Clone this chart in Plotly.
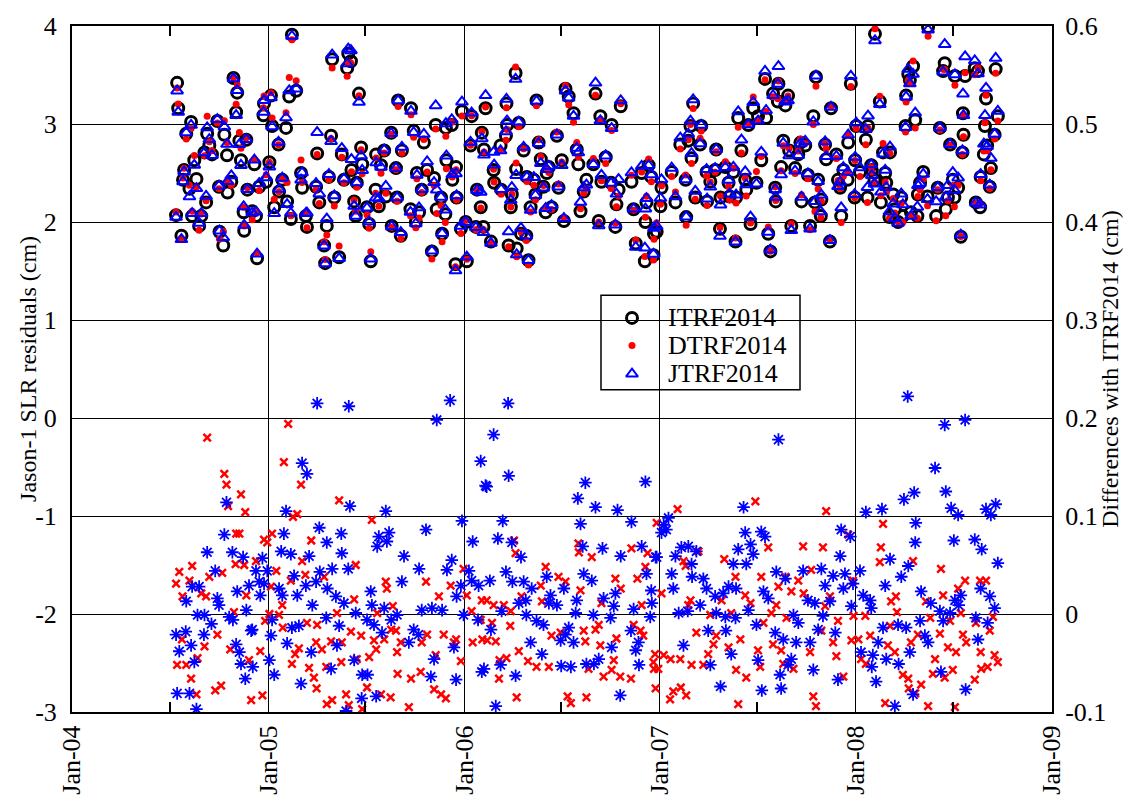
import numpy as np
import pandas as pd
import plotly.graph_objects as go

EPOCH0 = pd.Timestamp("2004-01-01")

# Jason-1 SLR residuals per arc, ITRF2014 solution (cm); arc epochs in days since 2004-01-01
arc_day = [
    196, 198, 222, 213, 252, 271, 301, 308, 306, 284,
    256, 247, 261, 289, 312, 325, 315, 340, 368, 228,
    209, 232, 207, 219, 274, 290, 297, 327, 349, 362,
    392, 386, 401, 427, 429, 250, 241, 224, 194, 237,
    204, 275, 282, 321, 336, 320, 343, 345, 377, 408,
    436, 438, 410, 418, 399, 358, 371, 357, 373, 385,
    405,
    485, 515, 513, 520, 535, 608, 632, 727, 771, 745,
    457, 483, 503, 539, 521, 541, 567, 582, 615, 595,
    637, 656, 678, 697, 708, 743, 768, 764, 479, 507,
    531, 576, 604, 643, 662, 675, 698, 716, 709, 566,
    585, 606, 652, 688, 717, 755, 455, 461, 489, 526,
    550, 572, 631, 647, 680, 696, 734, 753, 762, 475,
    470, 529, 554, 596, 613, 641, 690, 472, 498, 557,
    671, 715, 736, 725,
    827, 810, 866, 920, 926, 935, 976, 985, 1006, 1023,
    811, 833, 799, 809, 842, 870, 874, 904, 913, 941,
    944, 972, 995, 889, 828, 786, 848, 861, 885, 907,
    879, 864, 787, 800, 820, 818, 855, 883, 894, 948,
    959, 954, 987, 1005, 1019, 1015, 1043, 1062, 1075, 1080,
    1047, 1071, 1069, 917, 982, 1013, 767, 781, 814, 837,
    847, 829, 851, 1051, 1068, 1084, 1085,
    1292, 1317, 1307, 1316, 1335, 1330, 1387, 1382, 1158, 1153,
    1173, 1242, 1270, 1279, 1294, 1261, 1134, 1149, 1171, 1201,
    1248, 1285, 1326, 1358, 1367, 1337, 1354, 1322, 1348, 1372,
    1404, 1406, 1155, 1118, 1144, 1099, 1183, 1199, 1218, 1233,
    1255, 1224, 1190, 1276, 1311, 1257, 1162, 1184, 1209, 1226,
    1238, 1312, 1360, 1385, 1397, 1097, 1125, 1145, 1208, 1237,
    1265, 1298, 1302, 1341, 1376, 1396, 1090,
    1596, 1497, 1568, 1559, 1562, 1627, 1624, 1646, 1665, 1683,
    1689, 1722, 1452, 1415, 1506, 1555, 1572, 1554, 1661, 1702,
    1726, 1704, 1462, 1484, 1480, 1618, 1662, 1720, 1447, 1512,
    1525, 1637, 1660, 1706, 1700, 1425, 1460, 1490, 1438, 1469,
    1491, 1516, 1587, 1713, 1642, 1694, 1391, 1428, 1446, 1496,
    1518, 1581, 1711, 1652, 1432, 1459, 1483, 1508, 1531, 1546,
    1577, 1595, 1614, 1633, 1645, 1685, 1693, 1434, 1534, 1524,
    1549, 1564, 1576, 1611, 1629, 1413, 1657, 1540,
]
itrf2014_cm = [
    3.42, 3.16, 3.02, 2.90, 2.90, 3.03, 3.47, 3.32, 3.12, 2.89,
    2.78, 2.71, 2.69, 2.68, 2.83, 2.84, 2.63, 2.59, 2.61, 2.63,
    2.53, 2.44, 2.43, 2.34, 2.36, 2.30, 2.41, 2.33, 2.36, 2.41,
    2.43, 2.31, 2.21, 2.50, 2.35, 2.20, 2.06, 2.06, 2.07, 1.96,
    1.86, 1.90, 1.76, 1.91, 2.11, 2.10, 2.06, 1.63, 2.15, 2.03,
    2.06, 1.95, 3.91, 3.34, 2.96, 3.21, 3.29, 3.09, 2.98, 2.79,
    3.28,
    3.66, 3.72, 3.57, 3.64, 3.31, 3.24, 3.16, 3.13, 3.16, 3.08,
    2.70, 2.88, 2.69, 2.76, 2.53, 2.59, 2.69, 2.73, 2.73, 2.91,
    2.93, 2.81, 2.99, 2.96, 2.99, 2.78, 2.74, 2.91, 2.46, 2.43,
    2.40, 2.58, 2.55, 2.50, 2.53, 2.45, 2.63, 2.56, 2.43, 2.33,
    2.26, 2.25, 2.33, 2.25, 2.25, 2.33, 2.36, 2.20, 2.25, 2.21,
    2.15, 2.16, 2.13, 2.10, 2.13, 2.08, 2.00, 1.95, 2.15, 1.96,
    1.76, 2.06, 1.98, 1.96, 1.86, 2.00, 1.88, 1.58, 1.64, 1.60,
    1.70, 1.57, 1.60, 1.93,
    3.52, 3.21, 3.24, 3.36, 3.28, 3.11, 3.31, 3.08, 2.99, 3.18,
    2.99, 3.01, 2.78, 2.88, 2.73, 2.81, 2.64, 2.88, 2.63, 2.74,
    2.59, 2.59, 2.66, 2.56, 2.54, 2.53, 2.46, 2.43, 2.50, 2.35,
    2.36, 2.28, 2.40, 2.33, 2.28, 2.15, 2.15, 2.10, 2.15, 2.11,
    2.43, 2.31, 2.41, 2.40, 2.33, 2.18, 2.41, 2.50, 2.58, 2.46,
    2.13, 2.20, 2.00, 2.01, 2.01, 1.95, 1.95, 1.80, 1.76, 1.88,
    1.86, 1.73, 1.61, 1.78, 1.60, 1.66, 1.88,
    3.46, 3.41, 3.31, 3.23, 3.29, 3.19, 3.48, 3.08, 3.21, 2.98,
    2.98, 3.06, 3.16, 3.08, 3.06, 2.99, 2.79, 2.83, 2.79, 2.74,
    2.73, 2.63, 2.83, 2.81, 2.78, 2.73, 2.69, 2.56, 2.55, 2.48,
    2.79, 2.64, 2.65, 2.51, 2.43, 2.35, 2.51, 2.53, 2.56, 2.51,
    2.43, 2.40, 2.41, 2.40, 2.35, 2.33, 2.25, 2.21, 2.25, 2.26,
    2.25, 2.21, 2.21, 2.20, 2.23, 2.16, 2.20, 2.05, 1.93, 1.80,
    1.98, 1.88, 1.70, 1.96, 1.96, 2.06, 1.90,
    3.99, 3.92, 3.59, 3.51, 3.45, 3.62, 3.54, 3.49, 3.49, 3.57,
    3.54, 3.56, 3.41, 3.16, 3.23, 3.29, 3.04, 2.98, 3.11, 2.98,
    3.08, 3.26, 2.98, 2.98, 2.84, 2.96, 2.89, 2.89, 2.81, 2.71,
    2.71, 2.79, 2.71, 2.78, 2.69, 2.69, 2.63, 2.58, 2.53, 2.51,
    2.53, 2.50, 2.51, 2.55, 2.43, 2.46, 2.43, 2.43, 2.43, 2.43,
    2.40, 2.40, 2.36, 2.35, 2.35, 2.25, 2.25, 2.20, 2.28, 2.25,
    2.28, 2.26, 2.35, 2.25, 2.25, 2.20, 2.15, 2.06, 2.13, 2.05,
    2.06, 2.10, 2.06, 2.06, 2.13, 1.80, 1.85, 2.00,
]

# DTRF2014 minus ITRF2014 (cm)
dtrf_diff_day = [
    252, 284, 288, 315, 323, 291, 306, 312, 395, 403,
    427, 420, 412, 373, 358, 364, 446, 343, 305, 321,
    429, 435, 408, 381, 224, 200, 194, 219, 256, 280,
    241, 250, 206, 325, 371, 392, 302, 368, 386, 360,
    393, 438, 457, 271, 205, 247, 295, 351, 234, 330,
    423, 416, 410, 455, 196, 213, 222, 442, 451, 456,
    278, 267, 232, 334, 355,
    498, 559, 529, 470, 585, 587, 660, 706, 730, 526,
    598, 684, 736, 764, 494, 569, 745, 762, 520, 539,
    483, 503, 563, 582, 595, 604, 613, 606, 662, 652,
    693, 712, 716, 747, 765, 466, 567, 554, 502, 474,
    531, 678, 725, 650, 607, 632, 511, 550, 576, 594,
    675, 688, 697, 475, 485, 516, 541, 628,
    824, 827, 944, 945, 969, 1043, 1073, 1090, 883, 907,
    920, 1013, 1054, 1069, 874, 948, 1023, 838, 773, 786,
    805, 876, 987, 1062, 818, 783, 817, 774, 790, 833,
    894, 911, 954, 957, 976, 982, 985, 1015, 1047, 1060,
    1065, 797, 810, 850, 866, 889, 963, 1010, 1006, 991,
    1022, 1042, 1084, 1085, 796, 829, 924, 930, 959, 1088,
    1129, 1274, 1406, 1363, 1400, 1298, 1168, 1216, 1140, 1144,
    1237, 1285, 1330, 1354, 1378, 1099, 1255, 1317, 1341, 1364,
    1153, 1149, 1211, 1265, 1313, 1404, 1304, 1190, 1229, 1332,
    1289, 1164, 1201, 1246, 1196, 1224, 1279, 1307, 1322, 1376,
    1087, 1103, 1116, 1134, 1186, 1155, 1177, 1283, 1326, 1345,
    1093, 1238, 1257, 1121, 1135, 1145, 1115, 1242, 1382, 1387,
    1512, 1447, 1508, 1506, 1568, 1620, 1665, 1693, 1704, 1652,
    1456, 1536, 1527, 1624, 1592, 1538, 1479, 1457, 1657, 1717,
    1413, 1428, 1525, 1600, 1637, 1685, 1711, 1397, 1419, 1453,
    1466, 1488, 1521, 1577, 1618, 1661, 1667, 1564, 1633, 1648,
    1694, 1720, 1471, 1534, 1609, 1726, 1425, 1480, 1549, 1605,
    1642, 1695, 1707, 1438, 1559, 1627, 1683, 1583, 1560, 1572,
    1516, 1596, 1646,
]
dtrf_diff_cm = [
    0.180, 0.143, 0.132, 0.122, 0.104, 0.110, 0.082, 0.082, 0.155, 0.194,
    0.132, 0.102, 0.099, 0.082, 0.076, 0.073, 0.075, 0.054, 0.051, 0.050,
    0.054, 0.040, 0.034, 0.044, 0.049, 0.043, 0.031, 0.034, 0.038, 0.042,
    0.021, 0.018, 0.018, 0.019, 0.028, 0.009, 0.002, 0.000, -0.001, -0.007,
    -0.014, -0.009, -0.011, -0.021, -0.026, -0.033, -0.036, -0.038, -0.045, -0.047,
    -0.035, -0.041, -0.051, -0.029, -0.052, -0.052, -0.066, -0.055, -0.065, -0.076,
    -0.073, -0.078, -0.082, -0.088, -0.083,
    0.116, 0.096, 0.050, 0.038, 0.033, 0.026, 0.033, 0.029, 0.046, 0.015,
    0.008, 0.018, 0.019, 0.014, 0.001, 0.001, 0.003, -0.006, -0.018, -0.022,
    -0.028, -0.029, -0.027, -0.026, -0.016, -0.017, -0.029, -0.039, -0.021, -0.029,
    -0.021, -0.029, -0.026, -0.029, -0.026, -0.036, -0.036, -0.044, -0.049, -0.054,
    -0.046, -0.042, -0.048, -0.059, -0.061, -0.066, -0.082, -0.075, -0.082, -0.085,
    -0.077, -0.082, -0.086, -0.092, -0.088, -0.093, -0.097, -0.095,
    0.075, 0.062, 0.072, 0.063, 0.058, 0.067, 0.062, 0.093, 0.048, 0.038,
    0.033, 0.036, 0.036, 0.048, 0.029, 0.024, 0.026, 0.018, 0.014, 0.009,
    0.009, 0.013, 0.011, 0.009, 0.003, -0.009, -0.012, -0.027, -0.028, -0.038,
    -0.022, -0.019, -0.017, -0.028, -0.016, -0.011, -0.032, -0.025, -0.011, -0.017,
    -0.022, -0.047, -0.045, -0.048, -0.054, -0.054, -0.056, -0.047, -0.057, -0.064,
    -0.064, -0.066, -0.049, -0.056, -0.066, -0.085, -0.084, -0.091, -0.085, -0.076,
    0.107, 0.115, 0.105, 0.069, 0.068, 0.068, 0.064, 0.056, 0.054, 0.049,
    0.038, 0.038, 0.038, 0.034, 0.045, 0.021, 0.019, 0.028, 0.023, 0.021,
    0.014, 0.009, 0.014, 0.011, 0.009, 0.008, 0.001, -0.001, 0.001, -0.004,
    -0.009, -0.019, -0.022, -0.026, -0.031, -0.034, -0.037, -0.031, -0.037, -0.039,
    -0.041, -0.042, -0.046, -0.046, -0.041, -0.052, -0.052, -0.054, -0.051, -0.056,
    -0.056, -0.057, -0.065, -0.079, -0.075, -0.083, -0.087, -0.092, -0.084, -0.094,
    0.092, 0.081, 0.068, 0.053, 0.054, 0.046, 0.034, 0.034, 0.034, 0.026,
    0.034, 0.018, 0.013, 0.019, 0.013, 0.002, -0.002, -0.002, 0.001, -0.003,
    0.018, -0.007, -0.012, -0.004, -0.007, -0.009, -0.017, -0.017, -0.029, -0.027,
    -0.026, -0.022, -0.032, -0.021, -0.020, -0.021, -0.029, -0.029, -0.034, -0.039,
    -0.039, -0.042, -0.046, -0.039, -0.046, -0.049, -0.043, -0.051, -0.062, -0.061,
    -0.057, -0.056, -0.054, -0.064, -0.066, -0.065, -0.067, -0.072, -0.076, -0.081,
    -0.091, -0.094, -0.095,
]

# JTRF2014 minus ITRF2014 (cm)
jtrf_diff_day = [
    429, 438, 288, 399, 284, 395, 461, 252, 299, 319,
    355, 390, 408, 442, 267, 343, 364, 414, 224, 237,
    330, 349, 358, 386, 392, 436, 455, 213, 271, 274,
    308, 351, 420, 448, 234, 247, 260, 293, 300, 325,
    373, 336, 334, 410, 423, 371, 194, 212, 246, 222,
    200, 306, 312, 401, 446, 228, 315, 337, 368, 377,
    323, 427, 196, 219, 232, 457, 516,
    680, 762, 771, 518, 585, 727, 502, 475, 572, 591,
    569, 587, 660, 747, 503, 619, 708, 485, 515, 462,
    647, 699, 740, 476, 615, 725, 745, 758, 492, 507,
    557, 559, 582, 717, 474, 529, 550, 563, 606, 595,
    652, 671, 690, 730, 757, 498, 578, 637, 646, 628,
    494, 712, 675, 526, 483, 541, 551, 669, 716, 764,
    540, 567, 511, 705,
    786, 814, 773, 957, 943, 976, 1017, 1069, 803, 948,
    1043, 794, 820, 837, 952, 989, 1023, 1062, 1088, 809,
    779, 821, 842, 885, 954, 969, 1071, 857, 917, 1013,
    1080, 846, 892, 941, 991, 833, 889, 904, 1010, 1047,
    1081, 801, 847, 939, 972, 1004, 1078, 866, 879, 926,
    781, 920, 1042, 855, 911, 935, 1056, 1051, 1006, 982,
    973, 876, 799, 912, 930, 959, 1057, 768, 827, 1022,
    790, 813,
    1317, 1252, 1112, 1103, 1099, 1108, 1255, 1285, 1292, 1265,
    1242, 1270, 1136, 1149, 1164, 1125, 1090, 1233, 1257, 1155,
    1118, 1156, 1177, 1313, 1330, 1363, 1397, 1121, 1183, 1224,
    1238, 1289, 1199, 1214, 1298, 1372, 1385, 1404, 1171, 1131,
    1148, 1261, 1201, 1218, 1237, 1345, 1354, 1400, 1276, 1186,
    1219, 1311, 1326, 1350, 1376, 1391, 1229, 1140, 1279, 1341,
    1335, 1190, 1320, 1382, 1209, 1286, 1322,
    1627, 1665, 1609, 1570, 1551, 1629, 1639, 1652, 1704, 1722,
    1713, 1480, 1510, 1573, 1434, 1451, 1572, 1644, 1683, 1696,
    1432, 1525, 1559, 1726, 1469, 1546, 1419, 1441, 1456, 1516,
    1583, 1438, 1475, 1488, 1413, 1601, 1646, 1657, 1694, 1711,
    1453, 1490, 1618, 1637, 1653, 1720, 1581, 1624, 1685, 1512,
    1540, 1555, 1707, 1423, 1590, 1596, 1689, 1503, 1471, 1493,
    1562, 1518, 1541, 1491, 1620, 1428, 1499, 1666, 1568, 1534,
    1558,
]
jtrf_diff_cm = [
    0.154, 0.143, 0.114, 0.105, 0.081, 0.082, 0.088, 0.063, 0.063, 0.058,
    0.057, 0.064, 0.061, 0.059, 0.044, 0.044, 0.044, 0.039, 0.028, 0.028,
    0.029, 0.033, 0.031, 0.026, 0.019, 0.029, 0.033, 0.013, 0.016, 0.009,
    0.023, 0.019, 0.019, 0.009, -0.001, -0.001, -0.010, -0.003, -0.006, 0.004,
    -0.006, -0.016, -0.017, -0.014, -0.012, -0.022, -0.021, -0.018, -0.021, -0.032,
    -0.038, -0.031, -0.039, -0.030, -0.039, -0.049, -0.051, -0.054, -0.047, -0.062,
    -0.066, -0.071, -0.081, -0.081, -0.097, 0.215, 0.212,
    0.198, 0.156, 0.131, 0.110, 0.105, 0.095, 0.082, 0.073, 0.079, 0.083,
    0.069, 0.074, 0.086, 0.074, 0.062, 0.059, 0.055, 0.046, 0.046, 0.043,
    0.046, 0.045, 0.044, 0.026, 0.033, 0.029, 0.034, 0.029, 0.018, 0.011,
    0.023, 0.009, 0.006, 0.018, -0.004, 0.001, -0.006, -0.011, -0.001, -0.006,
    0.004, 0.006, 0.004, -0.001, -0.006, -0.012, -0.019, -0.016, -0.021, -0.029,
    -0.032, -0.034, -0.046, -0.047, -0.056, -0.062, -0.062, -0.064, -0.067, -0.059,
    -0.086, -0.084, -0.099, 0.218,
    0.183, 0.141, 0.130, 0.134, 0.118, 0.109, 0.106, 0.135, 0.095, 0.092,
    0.094, 0.077, 0.073, 0.058, 0.069, 0.067, 0.059, 0.069, 0.058, 0.043,
    0.034, 0.033, 0.033, 0.038, 0.041, 0.034, 0.041, 0.026, 0.026, 0.021,
    0.024, 0.014, 0.019, 0.014, 0.016, 0.011, 0.011, 0.009, 0.008, 0.005,
    0.011, 0.003, -0.001, 0.001, -0.001, -0.004, -0.003, -0.007, -0.011, -0.014,
    -0.016, -0.021, -0.017, -0.029, -0.027, -0.029, -0.029, -0.037, -0.034, -0.046,
    -0.051, -0.041, -0.052, -0.053, -0.054, -0.051, -0.052, -0.056, -0.063, -0.083,
    -0.094, 0.215,
    0.178, 0.109, 0.098, 0.091, 0.083, 0.086, 0.083, 0.084, 0.079, 0.071,
    0.066, 0.061, 0.068, 0.069, 0.064, 0.059, 0.058, 0.051, 0.051, 0.051,
    0.041, 0.038, 0.036, 0.043, 0.036, 0.044, 0.046, 0.026, 0.026, 0.028,
    0.026, 0.023, 0.018, 0.021, 0.016, 0.014, 0.011, 0.029, 0.009, 0.001,
    0.003, 0.004, 0.001, -0.003, -0.004, -0.001, -0.009, -0.002, -0.011, -0.017,
    -0.017, -0.019, -0.026, -0.029, -0.029, -0.016, -0.041, -0.032, -0.047, -0.046,
    -0.052, -0.052, -0.062, -0.057, -0.074, -0.078, -0.076,
    0.193, 0.198, 0.149, 0.124, 0.117, 0.125, 0.108, 0.101, 0.107, 0.112,
    0.101, 0.104, 0.107, 0.093, 0.086, 0.079, 0.073, 0.075, 0.076, 0.066,
    0.059, 0.056, 0.049, 0.052, 0.044, 0.038, 0.039, 0.041, 0.031, 0.029,
    0.023, 0.026, 0.019, 0.014, 0.013, 0.011, 0.014, 0.019, 0.026, 0.018,
    0.008, 0.006, 0.003, 0.001, 0.009, 0.006, -0.007, -0.007, -0.004, -0.014,
    -0.011, -0.014, -0.009, -0.019, -0.022, -0.029, -0.026, -0.029, -0.039, -0.042,
    -0.039, -0.046, -0.051, -0.054, -0.059, -0.067, -0.069, -0.077, -0.082, -0.094,
    0.222,
]

year_ticks = ["2004-01-01", "2005-01-01", "2006-01-01", "2007-01-01", "2008-01-01", "2009-01-01"]
year_labels = ["Jan-04", "Jan-05", "Jan-06", "Jan-07", "Jan-08", "Jan-09"]
midyear_ticks = ["2004-07-01", "2005-07-01", "2006-07-01", "2007-07-01", "2008-07-01"]
left_ticks = [-3, -2, -1, 0, 1, 2, 3, 4]
right_ticks = [-0.1, 0.0, 0.1, 0.2, 0.3, 0.4, 0.5, 0.6]
right_labels = ["-0.1", "0", "0.1", "0.2", "0.3", "0.4", "0.5", "0.6"]
legend_names = ["ITRF2014", "DTRF2014", "JTRF2014"]


def to_dates(days):
    return EPOCH0 + pd.to_timedelta(np.asarray(days), unit="D")


def diff_at(arc_days, diff_days, diff_vals):
    """Difference value of the arc closest in time to each ITRF arc."""
    a = np.asarray(arc_days)[:, None]
    d = np.asarray(diff_days)[None, :]
    return np.asarray(diff_vals)[np.abs(a - d).argmin(axis=1)]


itrf = np.asarray(itrf2014_cm)
dtrf = itrf + diff_at(arc_day, dtrf_diff_day, dtrf_diff_cm)
jtrf = itrf + diff_at(arc_day, jtrf_diff_day, jtrf_diff_cm)

FONT = '"Liberation Serif", "Times New Roman", Times, serif'

STYLE_ITRF = dict(symbol="circle-open", size=11, color="black", line=dict(width=3, color="black"))
STYLE_DTRF = dict(symbol="circle", size=7, color="#ff0000", line=dict(width=0))
STYLE_JTRF = dict(symbol="triangle-up-open", size=10.5, color="#0000ff", line=dict(width=2, color="#0000ff"))

fig = go.Figure()

fig.add_trace(go.Scatter(x=to_dates(arc_day), y=itrf, mode="markers", name="ITRF2014",
                         marker=STYLE_ITRF, showlegend=False))
fig.add_trace(go.Scatter(x=to_dates(arc_day), y=dtrf, mode="markers", name="DTRF2014",
                         marker=STYLE_DTRF, showlegend=False))
fig.add_trace(go.Scatter(x=to_dates(arc_day), y=jtrf, mode="markers", name="JTRF2014",
                         marker=STYLE_JTRF, showlegend=False))

fig.add_trace(go.Scatter(
    x=to_dates(dtrf_diff_day), y=dtrf_diff_cm, mode="markers", yaxis="y2",
    showlegend=False, name="DTRF2014 - ITRF2014",
    marker=dict(symbol="x-thin-open", size=7.5, color="#ff0000", line=dict(width=2.5, color="#ff0000")),
))
fig.add_trace(go.Scatter(
    x=to_dates(jtrf_diff_day), y=jtrf_diff_cm, mode="markers", yaxis="y2",
    showlegend=False, name="JTRF2014 - ITRF2014",
    marker=dict(symbol="asterisk-open", size=10.5, color="#0000ff", line=dict(width=1.8, color="#0000ff")),
))

# empty traces so the mid-year tick axes (top and bottom) are laid out
fig.add_trace(go.Scatter(x=[], y=[], xaxis="x2", yaxis="y", showlegend=False, hoverinfo="skip"))
fig.add_trace(go.Scatter(x=[], y=[], xaxis="x4", yaxis="y", showlegend=False, hoverinfo="skip"))

# legend box: keys drawn on a unit axis pair covering the plot area
W, H = 980.0, 698.0
box_x0, box_x1 = (601 - 72) / W, (800 - 72) / W
box_y0, box_y1 = (720 - 392) / H, (720 - 296) / H
key_x = (632 - 72) / W
key_y = [(720 - 319) / H, (720 - 347) / H, (720 - 376) / H]
text_x = (666 - 72) / W

for style, ky, nm in zip([STYLE_ITRF, STYLE_DTRF, STYLE_JTRF], key_y, legend_names):
    fig.add_trace(go.Scatter(x=[key_x], y=[ky], xaxis="x3", yaxis="y3", mode="markers",
                             marker=style, showlegend=False, hoverinfo="skip", name=nm))

axis_common = dict(
    showline=True, linecolor="black", linewidth=2,
    zeroline=False,
    tickfont=dict(family=FONT, size=26, color="black"),
)

midyear_axis = dict(
    type="date", range=["2004-01-01", "2009-01-01"], overlaying="x",
    anchor="y", tickmode="array", tickvals=midyear_ticks, ticks="inside",
    ticklen=10, tickwidth=1.5, tickcolor="black", showticklabels=False,
    showgrid=False, showline=False, zeroline=False,
)

annotations = [
    dict(text="Jason-1 SLR residuals (cm)", xref="paper", yref="paper",
         x=-0.045, y=0.5, textangle=-90, showarrow=False,
         xanchor="center", yanchor="middle",
         font=dict(family=FONT, size=24, color="black")),
    dict(text="Differences with ITRF2014 (cm)", xref="paper", yref="paper",
         x=1.059, y=0.5, textangle=-90, showarrow=False,
         xanchor="center", yanchor="middle",
         font=dict(family=FONT, size=24, color="black")),
]
for ky, nm in zip(key_y, legend_names):
    annotations.append(dict(text=nm, xref="paper", yref="paper", x=text_x, y=ky,
                            xanchor="left", yanchor="middle", showarrow=False,
                            font=dict(family=FONT, size=26, color="black")))

fig.update_layout(
    width=1130, height=807,
    margin=dict(l=72, r=78, t=22, b=87),
    paper_bgcolor="white", plot_bgcolor="white",
    showlegend=False,
    xaxis=dict(
        type="date", range=["2004-01-01", "2009-01-01"],
        tickmode="array", tickvals=year_ticks, ticktext=year_labels,
        tickangle=-90, ticks="inside", ticklen=10, tickcolor="black",
        showgrid=True, gridcolor="black", gridwidth=1.3,
        mirror=True, ticklabelstandoff=1,
        **axis_common,
    ),
    xaxis2=dict(side="top", **midyear_axis),
    xaxis4=dict(side="bottom", **midyear_axis),
    xaxis3=dict(domain=[0, 1], range=[0, 1], overlaying="x", anchor="y3",
                visible=False, fixedrange=True),
    yaxis=dict(
        range=[-3, 4], tickmode="array", tickvals=left_ticks,
        ticktext=[str(v) for v in left_ticks],
        ticks="inside", ticklen=8, tickcolor="black",
        showgrid=True, gridcolor="black", gridwidth=1.3,
        mirror=True, ticklabelstandoff=8,
        **axis_common,
    ),
    yaxis2=dict(
        range=[-0.1, 0.6], overlaying="y", side="right",
        tickmode="array", tickvals=right_ticks, ticktext=right_labels,
        ticks="inside", ticklen=8, tickcolor="black",
        showgrid=False, ticklabelstandoff=6,
        **axis_common,
    ),
    yaxis3=dict(domain=[0, 1], range=[0, 1], overlaying="y", anchor="x3",
                visible=False, fixedrange=True),
    shapes=[dict(type="rect", xref="paper", yref="paper",
                 x0=box_x0, x1=box_x1, y0=box_y0, y1=box_y1,
                 fillcolor="white", line=dict(color="black", width=1.5),
                 layer="between")],
    annotations=annotations,
)

fig.write_html("out.html")
